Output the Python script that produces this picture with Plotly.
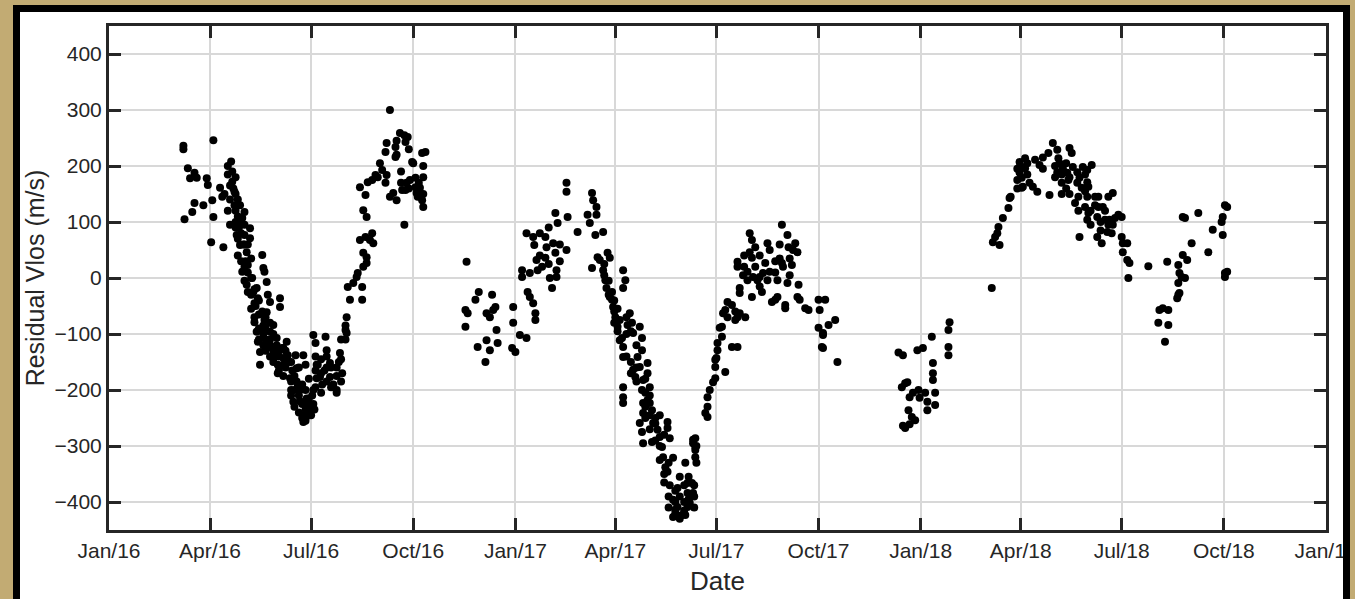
import pandas as pd
import plotly.graph_objects as go

# Residual line-of-sight velocity samples, as days since 2016-01-01 and m/s
days_2016 = [67, 67, 68, 71, 73, 77, 79, 75, 77, 85, 88, 89, 94, 92, 94, 93, 100, 102, 103,
             110, 111, 111, 112, 113, 113, 114, 115, 118, 120, 122, 122, 127, 127, 118, 120,
             124, 125, 124, 133, 134, 138, 139, 140, 142, 143, 145, 154, 154, 131, 133, 134,
             136, 136, 142, 145, 148, 151, 151, 157, 152, 152, 160, 161, 168, 169, 175, 177,
             163, 166, 164, 170, 172, 175, 184, 186, 187, 187, 177, 179, 175, 181, 183, 195,
             188, 190, 196, 199, 199, 205, 208, 210, 213, 214, 214, 217, 215, 220, 223, 224,
             229, 232, 228, 228, 229, 232, 226, 231, 235, 238, 237, 226, 231, 229, 232, 233,
             237, 240, 242, 244, 246, 249, 250, 249, 250, 253, 256, 253, 258, 258, 259, 262,
             266, 269, 267, 264, 267, 266, 268, 271, 273, 274, 276, 276, 277, 278, 282, 285,
             283, 280, 282, 283,
             104, 107, 109, 116, 117, 121, 123, 129, 130, 132, 138, 140, 141, 145, 147, 149,
             156, 159, 162, 165, 169, 172, 178, 180, 182, 185, 192, 194, 202, 205, 207,
             107, 107, 109, 109, 114, 114, 114, 114, 116, 116, 116, 119, 119, 119, 122, 122,
             122, 122, 125, 125, 125, 128, 128, 128, 128, 131, 131, 131, 135, 135, 135, 135,
             139, 139, 139, 141, 141, 141, 145, 145, 145, 148, 148, 148, 153, 153, 153, 157,
             157, 157, 159, 159, 164, 164, 164, 167, 167, 167, 171, 171, 171, 174, 174, 174,
             177, 177, 177, 180, 180, 184, 184, 186, 186, 186, 191, 191, 191, 196, 196, 196,
             200, 200, 205, 205, 209, 209, 209, 213, 213,
             259, 259, 263, 263, 270, 270, 279, 279, 283, 283]
vlos_2016 = [236, 230, 105, 196, 178, 188, 179, 118, 134, 130, 178, 166, 246, 64, 109, 139, 161,
             145, 55, 208, 190, 172, 160, 154, 130, 100, 77, 130, 107, 118, 77, 89, 71, 59, 11,
             46, 23, -12, -18, -36, 41, 18, 11, -7, -30, -43, -36, -52, -79, -96, -114, -132,
             -155, -61, -96, -84, -107, -120, -143, -155, -170, -114, -138, -138, -161, -138,
             -155, -179, -221, -200, -191, -220, -245, -102, -116, -155, -179, -250, -239, -257,
             -230, -210, -105, -155, -177, -129, -152, -177, -205, -134, -170, -93, -98, -70,
             -39, -16, -9, 2, 9, 20, 27, -16, -39, 45, 37, 68, 73, 68, 62, 80, 162, 148, 121,
             109, 171, 175, 184, 180, 205, 193, 170, 184, 225, 241, 145, 152, 300, 234, 216, 139,
             259, 255, 252, 243, 157, 157, 95, 170, 175, 207, 205, 179, 162, 152, 145, 223, 225,
             180, 161, 139, 127,
             150, 120, 95, 140, 90, 60, 30, 0, -25, -50, -60, -75, -90, -110, -125, -140,
             -125, -160, -150, -165, -185, -200, -215, -225, -245, -235, -190, -165, -190, -160,
             -150,
             200, 185, 165, 140, 180, 150, 120, 90, 110, 70, 40, 100, 80, 30, 95, 60,
             20, -5, 60, 10, -25, 35, 0, -30, -55, -20, -45, -70, -40, -65, -90, -110,
             -85, -100, -120, -70, -110, -130, -80, -120, -140, -100, -130, -150, -130, -140, -165, -125,
             -155, -175, -130, -150, -150, -185, -210, -175, -200, -230, -160, -210, -240, -190, -225, -250,
             -200, -235, -255, -180, -215, -200, -225, -140, -165, -195, -145, -170, -205, -140, -160, -185,
             -160, -195, -175, -200, -110, -145, -185, -110, -85,
             245, 220, 190, 170, 230, 160, 170, 150, 200, 150]

days_2017 = [322, 321, 323, 321, 330, 333, 332, 339, 340, 343, 346, 345, 348, 340, 343, 349, 350,
             364, 364, 363, 366, 370, 376, 372, 372, 376, 377, 379, 379, 382, 383, 382, 384, 384,
             385, 386, 390, 393, 394, 393, 397, 399, 400, 402, 403, 403, 402, 404, 412, 412, 413,
             412, 422, 431, 433, 435, 436, 439, 439, 438, 435, 440, 442, 445, 449, 451, 445, 447,
             448, 451, 454, 456, 458, 460, 453, 453, 463, 465, 463, 460, 467, 469, 471, 472, 462,
             463, 463, 478, 480, 480, 476, 472, 474, 478, 481, 480, 485, 485, 487, 463, 463, 463,
             481, 481, 485, 489, 490, 478, 480, 481, 503, 503, 494, 496, 505, 487, 492, 489, 498,
             499, 501, 503, 508, 505, 519, 514, 512, 508, 510, 508, 512, 516, 521, 521, 523, 525,
             526, 521, 519, 526, 528, 528, 526, 528, 528, 537, 539, 539, 541, 544, 546, 546, 548,
             550, 539, 546, 555, 547, 548, 552, 552, 561, 566, 553, 557, 555, 557, 561, 566, 568,
             573, 566, 566, 568, 568, 571, 575, 575, 577, 579, 577, 579, 580, 584, 579, 588, 586,
             589, 591, 593, 595, 595, 593, 597, 600, 602, 602, 606, 611, 606, 607, 609, 609, 611,
             612, 616, 618, 620, 615, 621, 620, 622, 627, 630, 639, 640, 645, 639, 643, 642, 648,
             654, 656, 643, 643,
             388, 388, 396, 396, 406, 406,
             446, 446, 450, 450, 455, 455, 455, 458, 458, 466, 466, 466, 470, 470, 470, 475,
             475, 475, 483, 483, 483, 483, 487, 487, 487, 492, 492, 496, 496, 496, 500, 500,
             500, 504, 504, 504, 510, 510, 510, 514, 514, 518, 518, 518, 522, 522, 527, 527,
             527, 529, 529,
             564, 564, 572, 572, 582, 582, 586, 586, 600, 600, 604, 604, 613, 613]
vlos_2017 = [29, -57, -63, -87, -39, -25, -123, -150, -63, -70, -57, -30, -52, -111, -129, -93,
             -116, -52, -80, -125, -132, -102, -107, 14, 2, 80, -25, -34, 9, 73, 59, -45, -63, -75,
             32, 14, 20, 73, 55, 36, 0, -18, 62, 45, 14, 2, 116, 98, 170, 154, 109, 50, 82, 113,
             98, 152, 139, 127, 113, 77, 18, 37, 32, 82, 45, 36, 14, -4, -18, -34, -52, -70, -87,
             -111, -25, -39, 14, -4, -18, -75, -84, -63, -80, -98, -107, -123, -141, -87, -107,
             -129, -141, -164, -177, -159, -182, -200, -152, -170, -195, -195, -213, -223, -223,
             -241, -218, -236, -259, -259, -275, -295, -257, -268, -271, -284, -286, -223, -250,
             -293, -302, -320, -338, -346, -321, -370, -330, -355, -375, -396, -414, -427, -409,
             -423, -366, -384, -402, -366, -384, -409, -423, -295, -307, -320, -289, -302, -286,
             -241, -230, -213, -200, -186, -159, -146, -116, -89, -248, -179, -168, -143, -129,
             -105, -87, -123, -123, -63, -70, -57, -43, -48, -70, -63, -70, 29, 20, -18, -27, 5,
             11, -4, 80, 68, 46, 36, 2, -4, -34, -25, 2, 9, 27, 62, 50, 11, -4, -43, -39, -34, -4,
             95, 77, 27, 20, -48, -54, -9, 55, 50, 62, 46, 23, -12, -34, -39, -54, -57, -39, -57,
             -39, -89, -102, -123, -84, -75, -150, -98, -125,
             40, 80, 25, 90, 60, 30,
             25, 5, -5, -30, -40, -60, -80, -55, -95, -70, -100, -140, -95, -150, -170, -120,
             -160, -185, -180, -205, -230, -250, -210, -245, -270, -260, -290, -245, -300, -325, -280, -350,
             -365, -330, -390, -410, -380, -400, -420, -390, -430, -370, -400, -415, -355, -395, -370, -390,
             -410, -300, -330,
             -60, -75, 40, 20, 55, 20, 40, -15, 30, 10, 60, 35, 35, 5]

days_2018 = [711, 715, 714, 717, 719, 720, 721, 724, 728, 733, 729, 730, 735, 737, 737, 741, 742,
             742, 742, 744, 744, 756, 757, 756, 756, 717, 715, 721, 726, 723,
             795, 796, 798, 800, 801, 802, 805, 810, 811, 812, 820, 822, 820, 822, 822, 823, 825,
             825, 829, 832, 836, 834, 838, 847, 846, 850, 854, 855, 856, 854, 859, 863, 864, 865,
             867, 868, 872, 872, 870, 874, 876, 877, 881, 885, 881, 882, 874, 879, 881, 881, 882,
             888, 891, 888, 891, 895, 890, 890, 894, 900, 904, 897, 900, 899, 901, 904, 906, 903,
             909, 912, 912, 913, 917, 913, 917, 919, 918, 936, 945, 946, 949, 954, 951, 954, 953,
             962, 963, 964, 963, 964, 966, 969, 963, 967, 971, 967, 969, 975, 981, 990, 994, 1002,
             1003, 1003, 1005, 1007, 1005, 1007, 1005,
             818, 818, 818, 827, 827, 841, 841, 852, 852, 858, 858, 858, 862, 862, 865, 865,
             873, 873, 879, 879, 884, 884, 893, 893, 897]
vlos_2018 = [-133, -138, -195, -188, -186, -236, -213, -205, -129, -125, -200, -214, -205, -221,
             -236, -105, -152, -170, -182, -205, -227, -93, -79, -123, -138, -268, -264, -261,
             -254, -248,
             -18, 64, 73, 80, 91, 59, 107, 125, 143, 145, 207, 198, 188, 179, 161, 163, 214, 196,
             170, 163, 154, 211, 202, 148, 223, 241, 229, 214, 205, 189, 196, 188, 175, 232, 223,
             198, 189, 170, 134, 179, 161, 198, 193, 202, 171, 163, 73, 127, 145, 104, 116, 145,
             145, 130, 127, 127, 109, 73, 62, 145, 152, 104, 95, 82, 104, 95, 107, 80, 113, 109,
             73, 62, 62, 46, 32, 27, 0, 21, -80, -57, -54, -57, -114, -84, 29, -36, -30, -27, -9,
             9, 2, 0, 23, 41, 32, 109, 107, 62, 116, 46, 86, 100, 109, 77, 130, 127, 9, 11, 2,
             195, 175, 160, 205, 185, 195, 215, 200, 180, 185, 170, 150, 205, 160, 180, 150,
             145, 120, 185, 155, 95, 120, 100, 85, 120]

x_start, x_end = "2016-01-01", "2019-01-01"
y_ticks = [-400, -300, -200, -100, 0, 100, 200, 300, 400]

origin = pd.Timestamp(x_start)
all_days = days_2016 + days_2017 + days_2018
all_vlos = vlos_2016 + vlos_2017 + vlos_2018
dates = origin + pd.to_timedelta(all_days, unit="D")

W, H = 1355, 599
L, R, T, B = 109, 29, 26, 69
pw, ph = W - L - R, H - T - B


def px(x):
    return (x - L) / pw


def py(y):
    return (H - B - y) / ph


ink = "#262626"
frame_gold = "#c2ab73"
font_family = "Liberation Sans, Arial, sans-serif"

fig = go.Figure(go.Scatter(
    x=dates, y=all_vlos, mode="markers",
    marker=dict(color="black", size=8, line=dict(width=0)),
    hoverinfo="x+y",
))

shapes = [
    # black picture frame with a white card inside
    dict(type="rect", xref="paper", yref="paper", x0=px(13), x1=px(1350), y0=py(640), y1=py(5),
         fillcolor="black", line=dict(width=0), layer="below"),
    dict(type="rect", xref="paper", yref="paper", x0=px(20), x1=px(1343), y0=py(640), y1=py(12),
         fillcolor="white", line=dict(width=0), layer="below"),
    # right edge of the frame drawn over the last tick label
    dict(type="rect", xref="paper", yref="paper", x0=px(1343), x1=px(1350), y0=py(640), y1=py(5),
         fillcolor="black", line=dict(width=0), layer="above"),
    dict(type="rect", xref="paper", yref="paper", x0=px(1350), x1=px(1362), y0=py(640), y1=py(-5),
         fillcolor=frame_gold, line=dict(width=0), layer="above"),
]

axis_common = dict(
    showline=True, linecolor=ink, linewidth=3, mirror="ticks",
    ticks="inside", ticklen=12, tickwidth=3, tickcolor=ink,
    showgrid=True, gridcolor="#d8d8d8", gridwidth=2, zeroline=False,
    tickfont=dict(family=font_family, size=21, color=ink),
    ticklabeloverflow="allow",
)

fig.update_layout(
    width=W, height=H,
    margin=dict(l=L, r=R, t=T, b=B, autoexpand=False),
    paper_bgcolor=frame_gold, plot_bgcolor="white",
    showlegend=False,
    shapes=shapes,
    xaxis=dict(
        range=[x_start, x_end], type="date", tick0=x_start, dtick="M3", tickformat="%b/%y",
        title=dict(text="Date", standoff=11, font=dict(family=font_family, size=26, color=ink)),
        **axis_common,
    ),
    yaxis=dict(
        range=[-450, 450], tickvals=y_ticks,
        title=dict(text="Residual Vlos (m/s)", standoff=3,
                   font=dict(family=font_family, size=25, color=ink)),
        **axis_common,
    ),
)

fig.write_html("out.html")
